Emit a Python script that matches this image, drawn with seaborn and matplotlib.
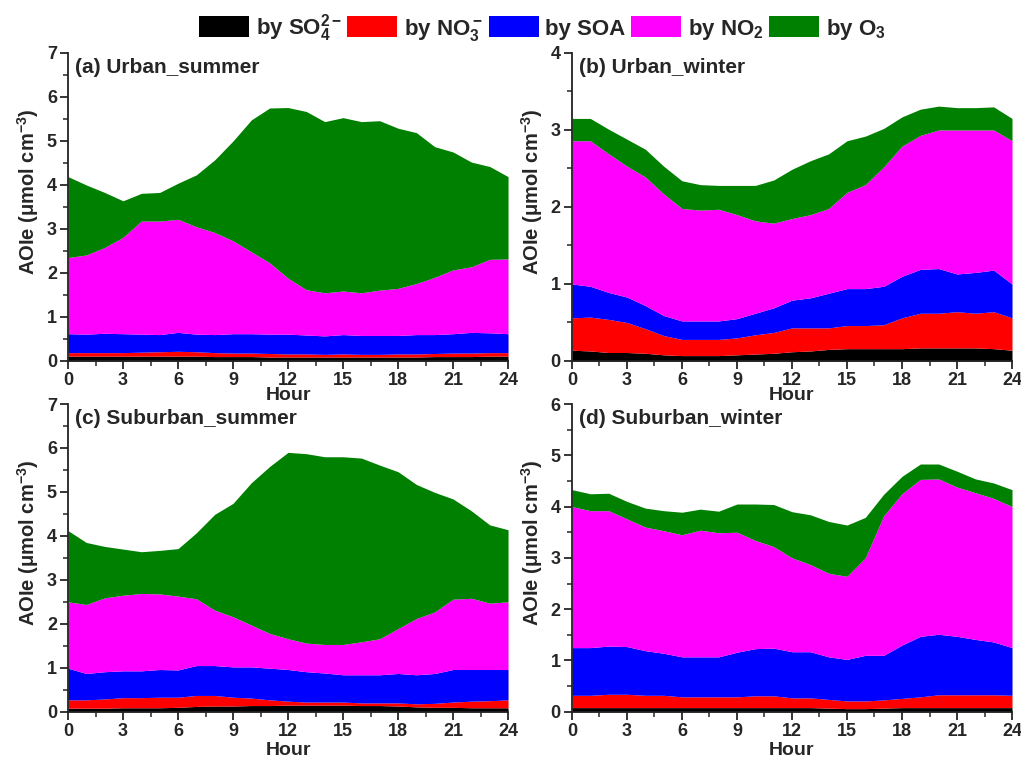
import matplotlib.pyplot as plt
import matplotlib.ticker as mticker
import seaborn as sns
from matplotlib.patches import Patch

hours = list(range(25))

species_colors = ["#000000", "#ff0000", "#0000ff", "#ff00ff", "#008000"]
legend_labels = [
    r"by SO$_4^{2-}$",
    r"by NO$_3^-$",
    "by SOA",
    r"by NO$_2$",
    r"by O$_3$",
]

# (a) Urban_summer
us_so4 = [0.11, 0.11, 0.11, 0.11, 0.11, 0.11, 0.11, 0.11, 0.10, 0.10, 0.10, 0.09, 0.09,
          0.09, 0.09, 0.09, 0.09, 0.09, 0.09, 0.09, 0.10, 0.10, 0.10, 0.11, 0.11]
us_no3 = [0.08, 0.08, 0.08, 0.08, 0.09, 0.10, 0.11, 0.10, 0.09, 0.08, 0.08, 0.08, 0.07,
          0.07, 0.06, 0.07, 0.06, 0.06, 0.07, 0.07, 0.07, 0.08, 0.08, 0.08, 0.08]
us_soa = [0.43, 0.42, 0.44, 0.43, 0.41, 0.39, 0.43, 0.40, 0.41, 0.44, 0.44, 0.44, 0.45,
          0.43, 0.42, 0.44, 0.43, 0.43, 0.42, 0.44, 0.43, 0.44, 0.47, 0.45, 0.43]
us_no2 = [1.73, 1.80, 1.95, 2.19, 2.57, 2.58, 2.57, 2.44, 2.32, 2.11, 1.86, 1.62, 1.27,
          1.03, 0.98, 0.99, 0.97, 1.03, 1.07, 1.16, 1.30, 1.45, 1.49, 1.67, 1.70]
us_o3 = [1.84, 1.59, 1.25, 0.83, 0.63, 0.65, 0.82, 1.18, 1.65, 2.27, 3.00, 3.52, 3.88,
         4.05, 3.89, 3.94, 3.89, 3.85, 3.64, 3.43, 2.97, 2.68, 2.38, 2.11, 1.87]

# (b) Urban_winter
uw_so4 = [0.14, 0.13, 0.11, 0.11, 0.10, 0.08, 0.07, 0.07, 0.07, 0.08, 0.09, 0.10, 0.12,
          0.13, 0.15, 0.16, 0.16, 0.16, 0.16, 0.17, 0.17, 0.17, 0.17, 0.16, 0.14]
uw_no3 = [0.42, 0.44, 0.43, 0.39, 0.32, 0.25, 0.21, 0.21, 0.21, 0.22, 0.25, 0.27, 0.31,
          0.30, 0.28, 0.30, 0.30, 0.31, 0.40, 0.45, 0.45, 0.47, 0.45, 0.48, 0.42]
uw_soa = [0.44, 0.40, 0.35, 0.33, 0.30, 0.26, 0.24, 0.24, 0.24, 0.25, 0.28, 0.32, 0.36,
          0.39, 0.45, 0.48, 0.48, 0.50, 0.54, 0.57, 0.58, 0.49, 0.53, 0.54, 0.44]
uw_no2 = [1.86, 1.89, 1.80, 1.70, 1.67, 1.58, 1.46, 1.44, 1.45, 1.35, 1.20, 1.10, 1.06,
          1.08, 1.10, 1.25, 1.35, 1.55, 1.69, 1.74, 1.80, 1.87, 1.85, 1.82, 1.86]
uw_o3 = [0.29, 0.29, 0.32, 0.35, 0.36, 0.36, 0.36, 0.33, 0.31, 0.38, 0.46, 0.56, 0.64,
         0.70, 0.71, 0.67, 0.63, 0.50, 0.38, 0.34, 0.31, 0.29, 0.29, 0.30, 0.29]

# (c) Suburban_summer
ss_so4 = [0.08, 0.08, 0.08, 0.09, 0.09, 0.09, 0.10, 0.12, 0.13, 0.13, 0.14, 0.14, 0.15,
          0.15, 0.15, 0.15, 0.14, 0.14, 0.13, 0.11, 0.10, 0.10, 0.09, 0.09, 0.09]
ss_no3 = [0.19, 0.19, 0.21, 0.23, 0.23, 0.24, 0.23, 0.25, 0.24, 0.20, 0.17, 0.13, 0.09,
          0.07, 0.07, 0.07, 0.06, 0.06, 0.07, 0.07, 0.09, 0.12, 0.15, 0.16, 0.18]
ss_soa = [0.72, 0.60, 0.62, 0.61, 0.61, 0.63, 0.62, 0.68, 0.68, 0.69, 0.71, 0.72, 0.72,
          0.69, 0.66, 0.62, 0.64, 0.64, 0.67, 0.66, 0.68, 0.74, 0.72, 0.71, 0.69]
ss_no2 = [1.51, 1.57, 1.68, 1.72, 1.76, 1.72, 1.68, 1.52, 1.26, 1.14, 0.95, 0.79, 0.70,
          0.65, 0.65, 0.69, 0.75, 0.82, 1.02, 1.28, 1.40, 1.60, 1.62, 1.51, 1.54]
ss_o3 = [1.62, 1.41, 1.17, 1.05, 0.95, 0.99, 1.08, 1.50, 2.18, 2.58, 3.24, 3.80, 4.24,
         4.31, 4.27, 4.27, 4.18, 3.95, 3.57, 3.05, 2.72, 2.28, 1.99, 1.78, 1.64]

# (d) Suburban_winter
sw_so4 = [0.08, 0.08, 0.08, 0.08, 0.08, 0.08, 0.08, 0.08, 0.08, 0.08, 0.08, 0.08, 0.08,
          0.08, 0.07, 0.06, 0.06, 0.07, 0.08, 0.08, 0.08, 0.08, 0.08, 0.08, 0.08]
sw_no3 = [0.24, 0.24, 0.26, 0.26, 0.24, 0.24, 0.21, 0.21, 0.21, 0.21, 0.23, 0.23, 0.19,
          0.19, 0.17, 0.15, 0.15, 0.16, 0.18, 0.21, 0.25, 0.25, 0.25, 0.25, 0.24]
sw_soa = [0.93, 0.93, 0.94, 0.93, 0.87, 0.82, 0.78, 0.78, 0.78, 0.87, 0.92, 0.93, 0.90,
          0.90, 0.83, 0.81, 0.89, 0.87, 1.04, 1.18, 1.18, 1.14, 1.08, 1.03, 0.93]
sw_no2 = [2.75, 2.67, 2.64, 2.49, 2.41, 2.39, 2.38, 2.47, 2.42, 2.34, 2.11, 1.98, 1.83,
          1.70, 1.63, 1.62, 1.90, 2.72, 2.95, 3.06, 3.03, 2.91, 2.86, 2.80, 2.75]
sw_o3 = [0.33, 0.33, 0.34, 0.34, 0.37, 0.39, 0.44, 0.41, 0.42, 0.55, 0.71, 0.82, 0.90,
         0.97, 1.01, 1.00, 0.79, 0.42, 0.34, 0.30, 0.29, 0.31, 0.27, 0.30, 0.33]

panel_titles = ["(a) Urban_summer", "(b) Urban_winter", "(c) Suburban_summer", "(d) Suburban_winter"]
panel_ymax = [7, 4, 7, 6]
panel_layers = [
    [us_so4, us_no3, us_soa, us_no2, us_o3],
    [uw_so4, uw_no3, uw_soa, uw_no2, uw_o3],
    [ss_so4, ss_no3, ss_soa, ss_no2, ss_o3],
    [sw_so4, sw_no3, sw_soa, sw_no2, sw_o3],
]

# axes rectangles in figure fractions (left, bottom, width, height)
panel_rects = [
    (0.0666, 0.5244, 0.431, 0.4058),
    (0.5602, 0.5244, 0.431, 0.4058),
    (0.0666, 0.0623, 0.431, 0.4054),
    (0.5602, 0.0623, 0.431, 0.4054),
]
# "Hour" sits a little lower under the bottom row
hour_label_y = [-0.085, -0.085, -0.097, -0.097]


def draw_panel(ax, title, layers, ymax, xlabel_y):
    ax.stackplot(hours, *layers, colors=species_colors, linewidth=0, antialiased=True)
    ax.set_xlim(0, 24)
    ax.set_ylim(0, ymax)
    ax.xaxis.set_major_locator(mticker.MultipleLocator(3))
    ax.xaxis.set_minor_locator(mticker.MultipleLocator(1.5))
    ax.yaxis.set_major_locator(mticker.MultipleLocator(1))
    ax.yaxis.set_minor_locator(mticker.MultipleLocator(0.5))
    ax.tick_params(which="major", direction="out", length=6, width=1.3, labelsize=13, pad=2)
    ax.tick_params(which="minor", direction="out", length=3.5, width=1.1)
    for lab in ax.get_xticklabels() + ax.get_yticklabels():
        lab.set_fontweight("bold")
    sns.despine(ax=ax)
    for side in ("left", "bottom"):
        ax.spines[side].set_linewidth(1.3)
        ax.spines[side].set_color("#222222")
    ax.set_xlabel("Hour", fontsize=14, fontweight="bold")
    ax.set_ylabel(r"AOIe ($\mu$mol cm$^{-3}$)", fontsize=14.5, fontweight="bold")
    ax.xaxis.set_label_coords(0.5, xlabel_y)
    ax.yaxis.set_label_coords(-0.062, 0.55)
    ax.text(0.015, 0.935, title, transform=ax.transAxes, fontsize=15,
            fontweight="bold", ha="left", va="baseline")


def main() -> None:
    sns.set_theme(style="ticks")
    plt.rcParams["font.family"] = ["Liberation Sans", "DejaVu Sans"]
    plt.rcParams["font.weight"] = "bold"
    plt.rcParams["axes.labelweight"] = "bold"
    plt.rcParams["mathtext.fontset"] = "custom"
    plt.rcParams["mathtext.rm"] = "Liberation Sans:bold"
    plt.rcParams["mathtext.it"] = "Liberation Sans:bold"
    plt.rcParams["mathtext.bf"] = "Liberation Sans:bold"
    plt.rcParams["mathtext.default"] = "rm"

    fig = plt.figure(figsize=(10.21, 7.59), dpi=100)
    for rect, title, layers, ymax, xl_y in zip(panel_rects, panel_titles, panel_layers,
                                               panel_ymax, hour_label_y):
        ax = fig.add_axes(rect)
        draw_panel(ax, title, layers, ymax, xl_y)

    handles = [Patch(facecolor=c, edgecolor="none") for c in species_colors]
    fig.legend(handles, legend_labels, loc="center", bbox_to_anchor=(0.531, 0.963),
               ncol=5, frameon=False, fontsize=16, handlelength=2.25, handleheight=1.08,
               handletextpad=0.3, columnspacing=0.25, borderpad=0.1)

    fig.savefig("out.png", dpi=100, facecolor="white")
    plt.close(fig)


if __name__ == "__main__":
    main()
